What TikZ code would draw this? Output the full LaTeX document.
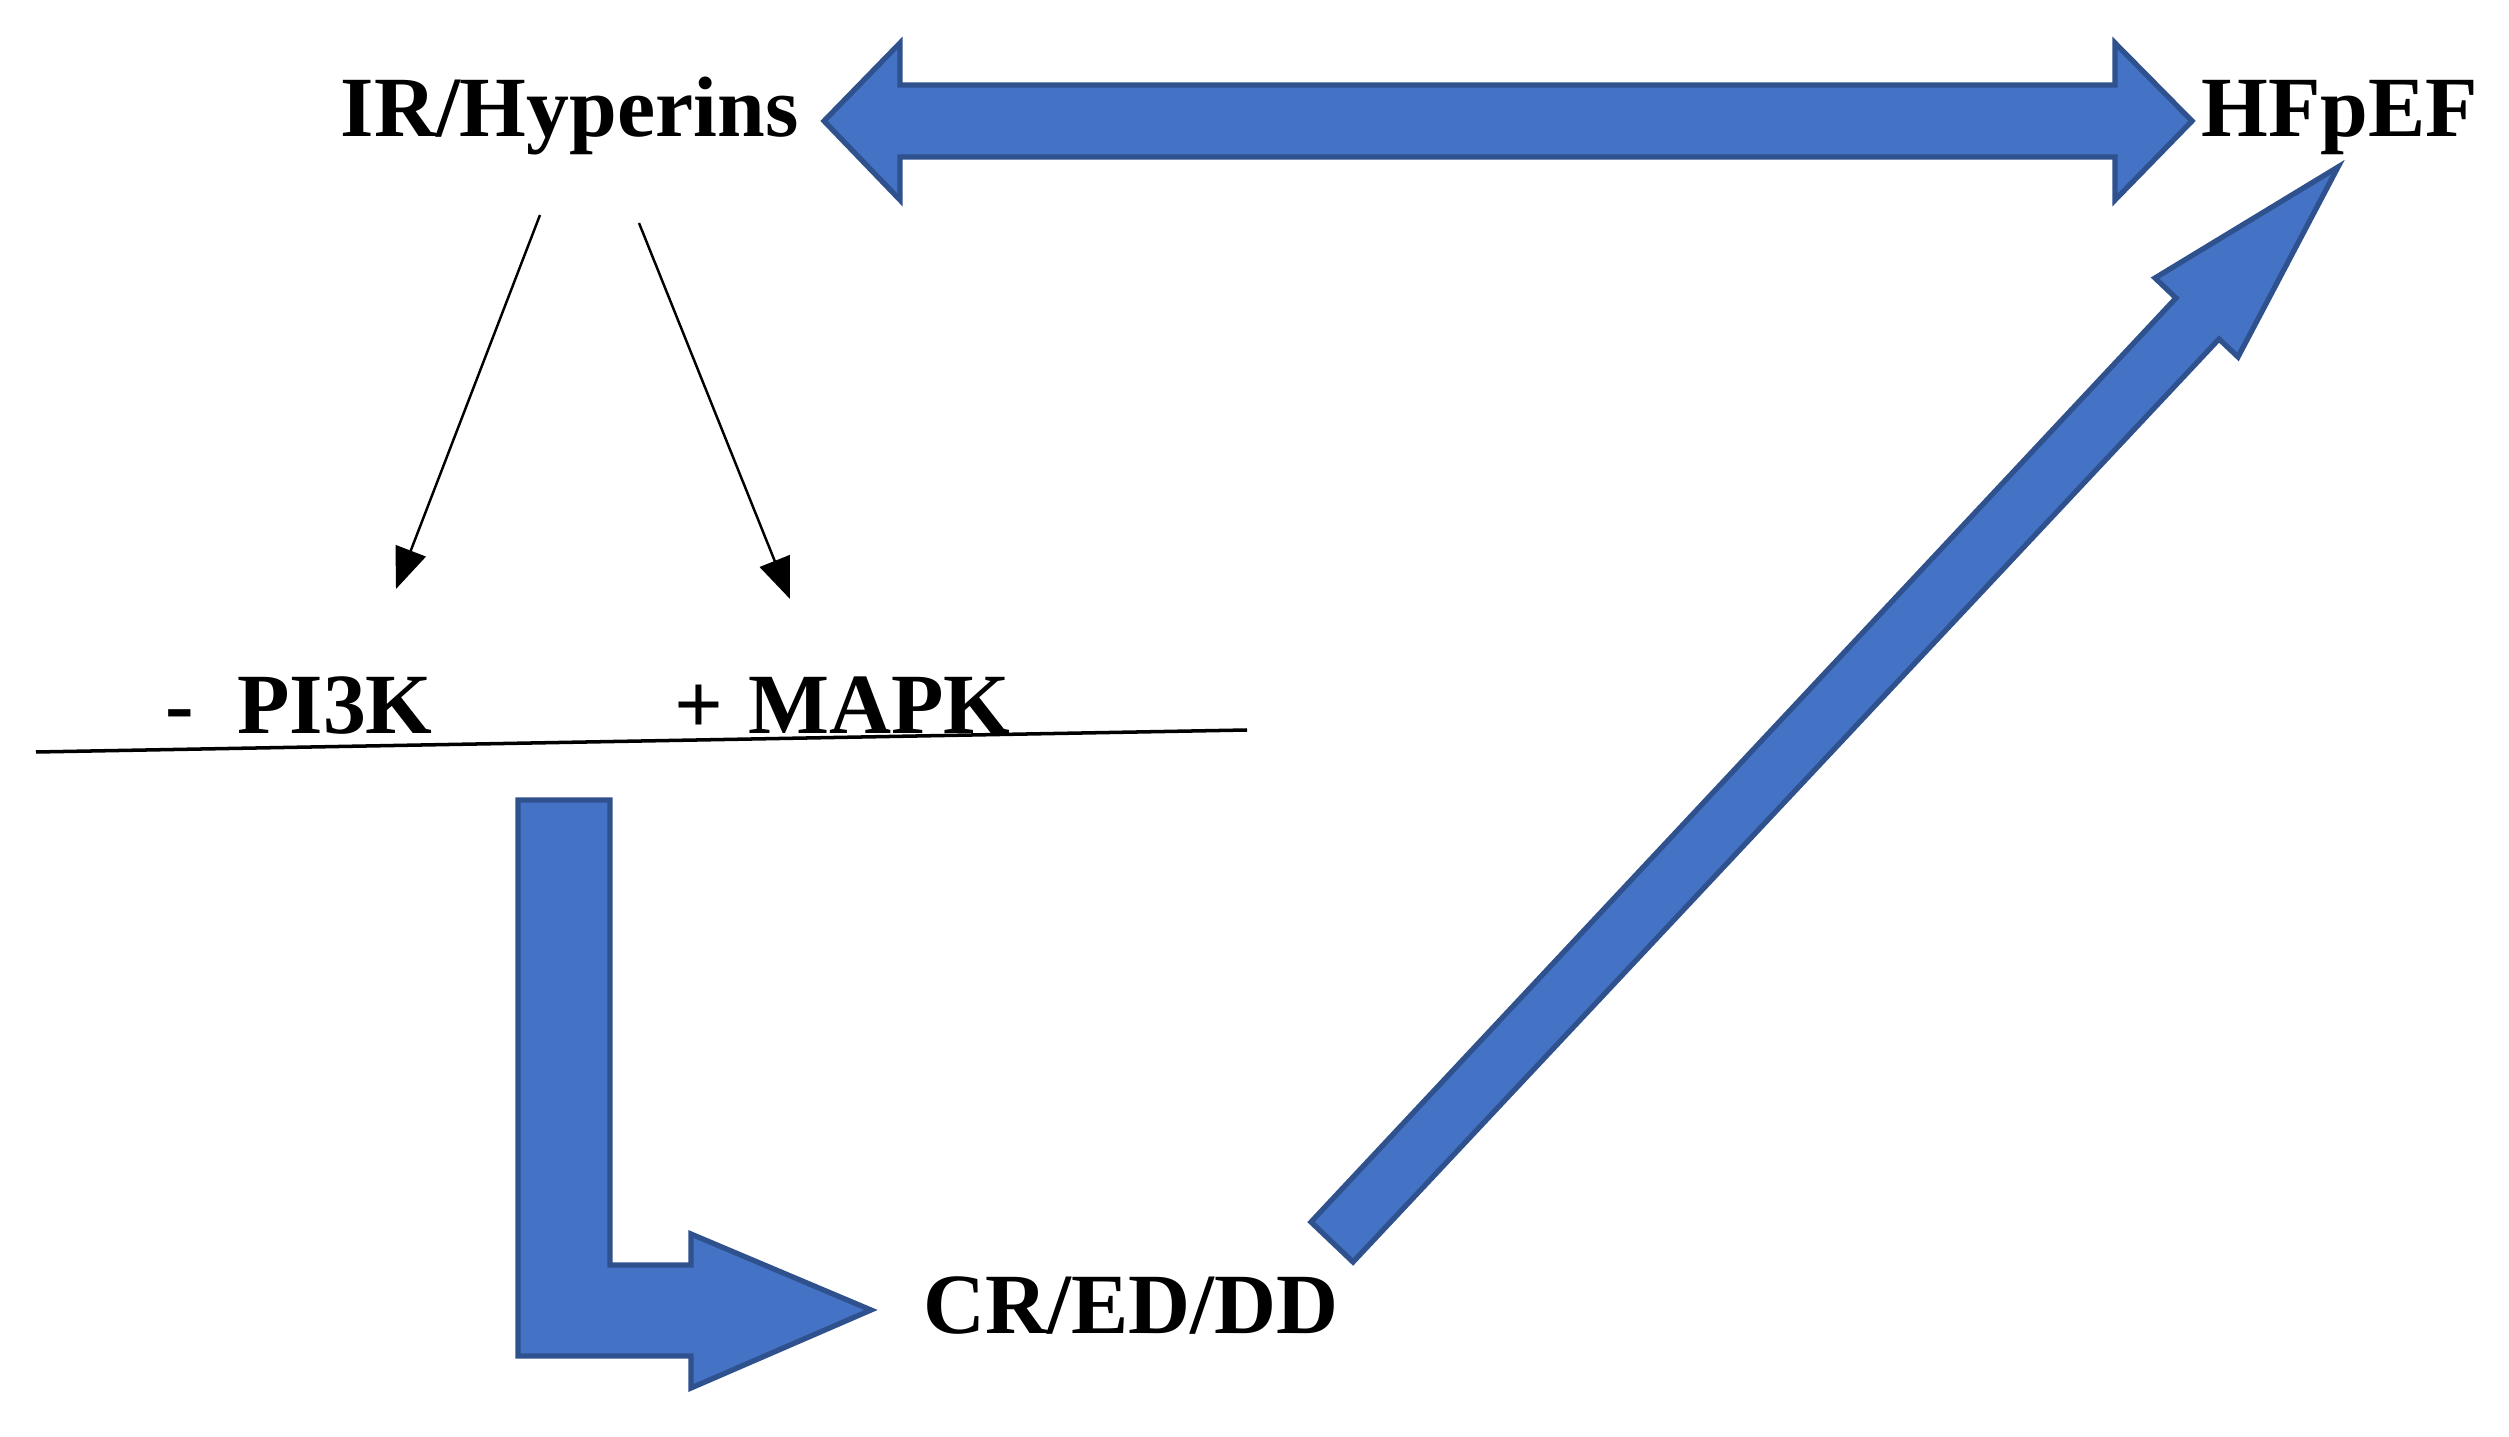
\documentclass[tikz,border=0pt]{standalone}
\usepackage{fontspec}
\setmainfont{Liberation Serif}
\usetikzlibrary{arrows.meta}
\definecolor{arrowblue}{HTML}{4472C4}
\definecolor{arrowedge}{HTML}{2F528F}
\tikzset{
	blockarrow/.style={fill=arrowblue, draw=arrowedge, line width=1.5pt},
	termtext/.style={font=\fontsize{24.4}{29}\selectfont\bfseries, inner sep=0pt, anchor=base west},
	thinarrow/.style={line width=0.7pt, -{Triangle[length=0.41cm,width=0.32cm]}}
}
\begin{document}
\begin{tikzpicture}[x=0.01cm, y=-0.01cm]
			\useasboundingbox (0,0) rectangle (2509,1437);
			
			\filldraw[blockarrow] (824,121) -- (900,43) -- (900,85) -- (2115,85) -- (2115,43) -- (2192,121) -- (2115,200) -- (2115,157) -- (900,157) -- (900,200) -- cycle;
			\filldraw[blockarrow] (518,800) -- (610,800) -- (610,1265) -- (691,1265) -- (691,1234) -- (871,1310) -- (691,1388) -- (691,1356) -- (518,1356) -- cycle;
			\filldraw[blockarrow] (1311,1222) -- (2176,298) -- (2155,278) -- (2338,167) -- (2238,357) -- (2219,339) -- (1353,1262) -- cycle;
			
			\node[termtext] (ir) at (340,137) {IR/Hyperins};
			\node[termtext] (hfpef) at (2201,137) {HFpEF};
			\node[termtext] (pi3k) at (165,733) {-\hspace{0.43cm}PI3K};
			\node[termtext] (mapk) at (674,733) {+\hspace{0.25cm}MAPK};
			\node[termtext] (credd) at (923,1333) {CR/ED/DD};
			
			\coordinate (ir-left) at (540,215);
			\coordinate (ir-right) at (639,223);
			\coordinate (pi3k-top) at (396,589);
			\coordinate (mapk-top) at (790,599);
			\draw[thinarrow] (ir-left) -- (pi3k-top);
			\draw[thinarrow] (ir-right) -- (mapk-top);
			
			\draw[line width=1pt] (36,752) -- (1247,730);
			
		\end{tikzpicture}
\end{document}
